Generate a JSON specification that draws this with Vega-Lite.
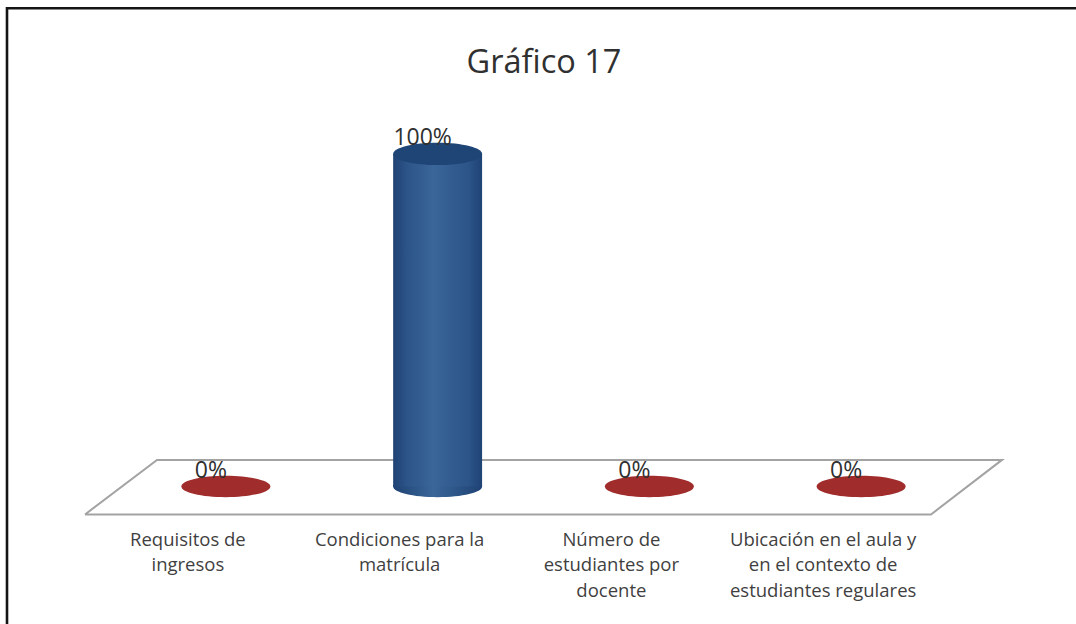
{
"$schema":"https://vega.github.io/schema/vega-lite/v6.json",
"width":1076,"height":515,
"autosize":{"type":"none"},
"padding":{"left":0,"top":0,"right":0,"bottom":109},
"background":"#ffffff",
"view":{"stroke":null},
"config":{"view":{"stroke":null}},
"title":{"text":"Gráfico 17","font":"Open Sans","fontSize":32.5,"fontWeight":"normal","color":"#303030","anchor":"middle","offset":0,"dy":79,"dx":6},
"datasets":{
"categorias":[
{"categoria":"Requisitos de ingresos","valor":0,"etiqueta":"0%"},
{"categoria":"Condiciones para la matrícula","valor":100,"etiqueta":"100%"},
{"categoria":"Número de estudiantes por docente","valor":0,"etiqueta":"0%"},
{"categoria":"Ubicación en el aula y en el contexto de estudiantes regulares","valor":0,"etiqueta":"0%"}],
"piso":[
{"px":85,"py":-8.4,"orden":0},
{"px":157,"py":8.0,"orden":1},
{"px":1002,"py":8.0,"orden":2},
{"px":931,"py":-8.4,"orden":3},
{"px":85,"py":-8.4,"orden":4}],
"marco":[
{"px":7,"py":-41.4,"orden":0},
{"px":7,"py":143.8,"orden":1},
{"px":1076,"py":143.8,"orden":2}]
},
"resolve":{"scale":{"x":"independent"}},
"layer":[
{"data":{"name":"marco"},
"mark":{"type":"line","stroke":"#151515","strokeWidth":2.6,"clip":false},
"encoding":{
"x":{"field":"px","type":"quantitative","scale":{"domain":[0,1076],"range":[0,1076],"nice":false,"zero":false},"axis":null},
"y":{"field":"py","type":"quantitative","scale":{"domain":[-8.57,146.3],"nice":false,"zero":false},"axis":null},
"order":{"field":"orden"}}},
{"data":{"name":"piso"},
"mark":{"type":"line","stroke":"#a3a3a3","strokeWidth":2},
"encoding":{
"x":{"field":"px","type":"quantitative","scale":{"domain":[0,1076],"range":[0,1076],"nice":false,"zero":false},"axis":null},
"y":{"field":"py","type":"quantitative","scale":{"domain":[-8.57,146.3],"nice":false,"zero":false},"axis":null},
"order":{"field":"orden"}}},
{"data":{"name":"categorias"},
"encoding":{
"x":{"field":"categoria","type":"nominal","sort":null,"title":null,
"scale":{"domain":["Requisitos de ingresos","Condiciones para la matrícula","Número de estudiantes por docente","Ubicación en el aula y en el contexto de estudiantes regulares"],"range":[120,967],"paddingInner":0.58,"paddingOuter":0.29},
"axis":{"domain":false,"ticks":false,"grid":false,"labelAngle":0,"labelAlign":"center","labelBaseline":"top","labelPadding":15,"labelOffset":-38,"labelFont":"Open Sans","labelFontSize":18.5,"labelColor":"#3f3f3f","labelLineHeight":25.5,"labelLimit":0,"labelOverlap":false,
"labelExpr":"datum.label=='Requisitos de ingresos'?['Requisitos de','ingresos']:datum.label=='Condiciones para la matrícula'?['Condiciones para la','matrícula']:datum.label=='Número de estudiantes por docente'?['Número de','estudiantes por','docente']:['Ubicación en el aula y','en el contexto de','estudiantes regulares']"}}
},
"layer":[
{"transform":[{"filter":"datum.valor==0"}],
"mark":{"type":"point","filled":true,"opacity":1,"shape":"M-1,0A1,0.24,0,1,0,1,0A1,0.24,0,1,0,-1,0Z","size":7921,"fill":"#a02c2c","stroke":null},
"encoding":{"y":{"field":"valor","type":"quantitative","stack":null,"scale":{"domain":[-8.57,146.3],"nice":false,"zero":false},"axis":null}}},
{"transform":[{"filter":"datum.valor>0"}],
"mark":{"type":"point","filled":true,"opacity":1,"shape":"M-1,0A1,0.24,0,1,0,1,0A1,0.24,0,1,0,-1,0Z","size":7921,"stroke":null,
"fill":{"gradient":"linear","x1":0,"y1":0,"x2":1,"y2":0,"stops":[{"offset":0,"color":"#1f4274"},{"offset":0.45,"color":"#3a6699"},{"offset":1,"color":"#1f4274"}]}},
"encoding":{"y":{"datum":0,"type":"quantitative","scale":{"domain":[-8.57,146.3],"nice":false,"zero":false},"axis":null}}},
{"transform":[{"filter":"datum.valor>0"}],
"mark":{"type":"bar","stroke":null,
"fill":{"gradient":"linear","x1":0,"y1":0,"x2":1,"y2":0,"stops":[{"offset":0,"color":"#1f4274"},{"offset":0.15,"color":"#2c5488"},{"offset":0.45,"color":"#3a6699"},{"offset":0.85,"color":"#2c5488"},{"offset":1,"color":"#1f4274"}]}},
"encoding":{"y":{"field":"valor","type":"quantitative","stack":null,"scale":{"domain":[-8.57,146.3],"nice":false,"zero":false},"axis":null}}},
{"transform":[{"filter":"datum.valor>0"}],
"mark":{"type":"point","filled":true,"opacity":1,"shape":"M-1,0A1,0.25,0,1,0,1,0A1,0.25,0,1,0,-1,0Z","size":7921,"fill":"#1f4577","stroke":null},
"encoding":{"y":{"field":"valor","type":"quantitative","stack":null,"scale":{"domain":[-8.57,146.3],"nice":false,"zero":false},"axis":null}}},
{"mark":{"type":"text","font":"Open Sans","fontSize":23,"color":"#303030","dx":-15,"dy":-16,"baseline":"middle","align":"center"},
"encoding":{
"y":{"field":"valor","type":"quantitative","stack":null,"scale":{"domain":[-8.57,146.3],"nice":false,"zero":false},"axis":null},
"text":{"field":"etiqueta","type":"nominal"}}}
]}
]}
